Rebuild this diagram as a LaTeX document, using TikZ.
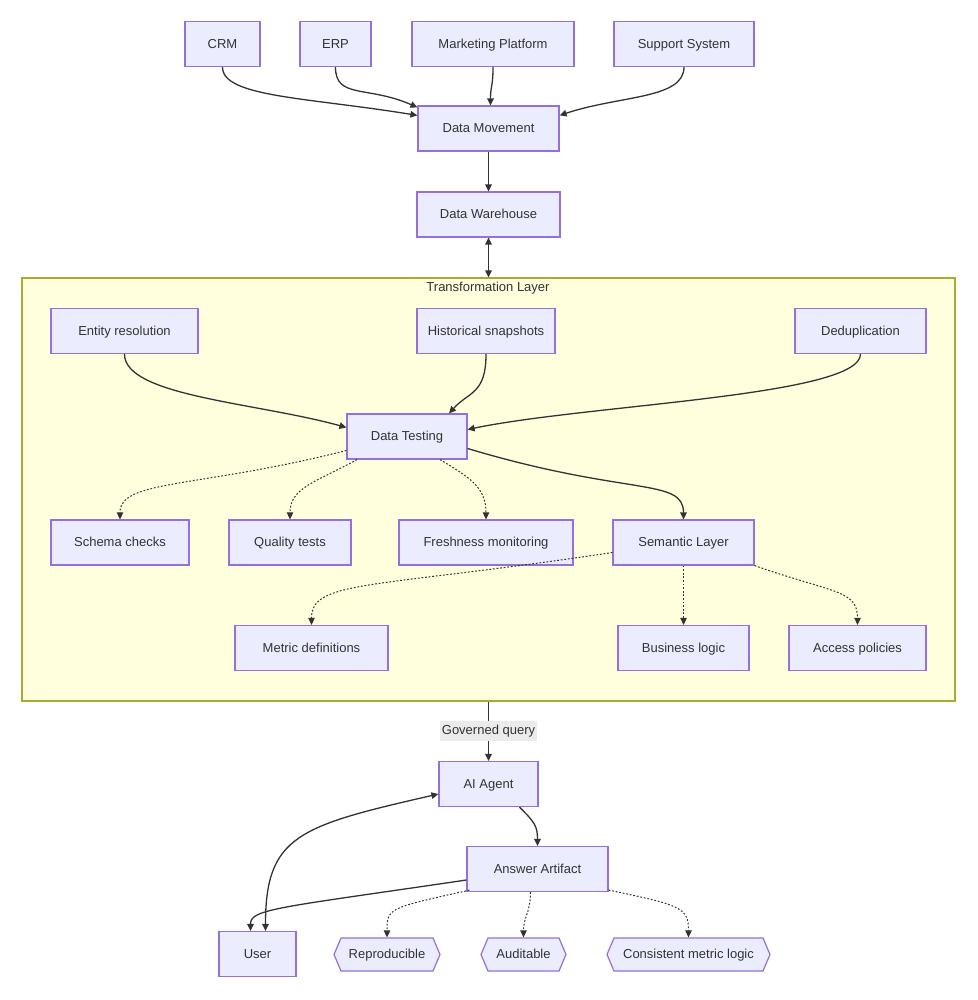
\documentclass[tikz,border=0pt]{standalone}
\usepackage{fontspec}
\setmainfont{Liberation Sans}
\usetikzlibrary{arrows.meta,calc,shapes.symbols}
\definecolor{nodefill}{HTML}{ECECFF}
\definecolor{nodeline}{HTML}{9370DB}
\definecolor{clusterfill}{HTML}{FFFFDE}
\definecolor{clusterline}{HTML}{AAAA33}
\definecolor{edgecol}{HTML}{333333}
\definecolor{txt}{HTML}{333333}
\definecolor{lblbg}{HTML}{EBEBEB}
\begin{document}
\begin{tikzpicture}[x=1pt,y=-1pt,
  box/.style={draw=nodeline, fill=nodefill, line width=1.2pt, minimum height=45pt, text=txt, font=\fontsize{13}{15}\selectfont, inner sep=0pt, text height=9.6pt, text depth=1.2pt},
  hexbox/.style={box, shape=signal, signal to=west and east, signal pointer angle=134, minimum height=33pt},
  cluster/.style={draw=clusterline, fill=clusterfill, line width=1.2pt, inner sep=0pt},
  title/.style={text=txt, font=\fontsize{13}{15}\selectfont, inner sep=0pt, text height=9.6pt, text depth=1.2pt},
  elabel/.style={fill=lblbg, text=txt, font=\fontsize{13}{15}\selectfont, inner xsep=2pt, inner ysep=4pt, text height=9.6pt, text depth=2.4pt},
  flow/.style={draw=edgecol, line width=1.3pt, -{Triangle[length=7pt,width=6.5pt]}},
  dots/.style={flow, line width=1pt, dash pattern=on 1.8pt off 1.8pt},
  both/.style={{Triangle[length=7pt,width=6.5pt]}-{Triangle[length=7pt,width=6.5pt]}}]
\path[use as bounding box, fill=white] (0,0) rectangle (977,1000);

% container
\node[cluster, minimum width=933pt, minimum height=423pt] (tl) at (488.5,489.5) {};
\node[title] (tlt) at (488,287) {Transformation Layer};

% top sources
\node[box, minimum width=75] (crm) at (222.5,44) {CRM};
\node[box, minimum width=71] (erp) at (335.5,44) {ERP};
\node[box, minimum width=162] (mp) at (493,44) {Marketing Platform};
\node[box, minimum width=140] (ss) at (684,44) {Support System};
\node[box, minimum width=141] (dm) at (488.5,128.5) {Data Movement};
\node[box, minimum width=143] (dw) at (488.5,214.5) {Data Warehouse};

% transformation layer
\node[box, minimum width=147] (er) at (124.5,331) {Entity resolution};
\node[box, minimum width=138] (hs) at (486,331) {Historical snapshots};
\node[box, minimum width=131] (dd) at (860.5,331) {Deduplication};
\node[box, minimum width=120] (dt) at (407,436.5) {Data Testing};
\node[box, minimum width=138] (sc) at (120,542.5) {Schema checks};
\node[box, minimum width=122] (qt) at (290,542.5) {Quality tests};
\node[box, minimum width=174] (fm) at (486,542.5) {Freshness monitoring};
\node[box, minimum width=141] (sl) at (683.5,542.5) {Semantic Layer};
\node[box, minimum width=153] (md) at (311.5,648) {Metric definitions};
\node[box, minimum width=131] (bl) at (683.5,648) {Business logic};
\node[box, minimum width=137] (ap) at (857.5,648) {Access policies};

% bottom
\node[box, minimum width=99] (ai) at (488.5,784) {AI Agent};
\node[box, minimum width=141] (aa) at (537.5,869) {Answer Artifact};
\node[box, minimum width=77] (user) at (257.5,954) {User};
\node[hexbox, minimum width=106] (rep) at (387,954.5) {Reproducible};
\node[hexbox, minimum width=85] (aud) at (523.5,954.5) {Auditable};
\node[hexbox, minimum width=163] (cml) at (688.5,954.5) {Consistent metric logic};

% edges top
\draw[flow] (crm.south) .. controls +(0,30) and +(-110,-18) .. ($(dm.north west)+(0,10)$);
\draw[flow] (erp.south) .. controls +(0,32) and +(-50,-22) .. ($(dm.north west)+(0,2)$);
\draw[flow] (mp.south) .. controls +(0,20) and +(0,-20) .. ($(dm.north)+(2,0)$);
\draw[flow] (ss.south) .. controls +(0,32) and +(60,-20) .. ($(dm.north east)+(0,10)$);
\draw[flow] (dm) -- (dw);
\draw[flow, both] (dw.south) -- (dw.south |- tl.north);

% into data testing
\draw[flow] (er.south) .. controls +(0,42) and +(-90,-25) .. ($(dt.west)+(0,-9)$);
\draw[flow] (hs.south) .. controls +(0,40) and +(20,-22) .. ($(dt.north)+(42,0)$);
\draw[flow] (dd.south) .. controls +(0,42) and +(120,-25) .. ($(dt.east)+(0,-7)$);

% from data testing
\draw[dots] ($(dt.west)+(0,14)$) .. controls +(-150,38) and +(0,-40) .. (sc.north);
\draw[dots] ($(dt.south)+(-50,0)$) .. controls +(-40,22) and +(0,-32) .. (qt.north);
\draw[dots] ($(dt.south)+(33,0)$) .. controls +(30,18) and +(0,-32) .. (fm.north);
\draw[flow] ($(dt.east)+(0,12)$) .. controls +(160,48) and +(0,-42) .. (sl.north);

% from semantic layer
\draw[dots] ($(sl.west)+(0,10)$) .. controls +(-240,36) and +(0,-45) .. (md.north);
\draw[dots] (sl.south) -- (bl.north);
\draw[dots] (sl.south east) .. controls +(80,28) and +(0,-35) .. (ap.north);

% to AI agent
\draw[flow] (tl.south -| ai.north) -- node[elabel] (gq) {Governed query} (ai.north);

% bottom edges
\draw[flow] ($(ai.south)+(31,0)$) .. controls +(15,15) and +(0,-20) .. (aa.north);
\draw[flow, both] ($(user.north)+(8,0)$) .. controls +(0,-95) and +(-140,32) .. ($(ai.west)+(0,10)$);
\draw[flow] ($(aa.west)+(0,11)$) .. controls +(-190,28) and +(0,-22) .. ($(user.north)+(-7,0)$);
\draw[dots] ($(aa.south west)+(3,-2)$) .. controls +(-80,18) and +(0,-30) .. (rep.north);
\draw[dots] ($(aa.south)+(-7,0)$) .. controls +(0,20) and +(0,-20) .. (aud.north);
\draw[dots] ($(aa.south east)+(0,-2)$) .. controls +(72,15) and +(0,-30) .. (cml.north);
\end{tikzpicture}
\end{document}
